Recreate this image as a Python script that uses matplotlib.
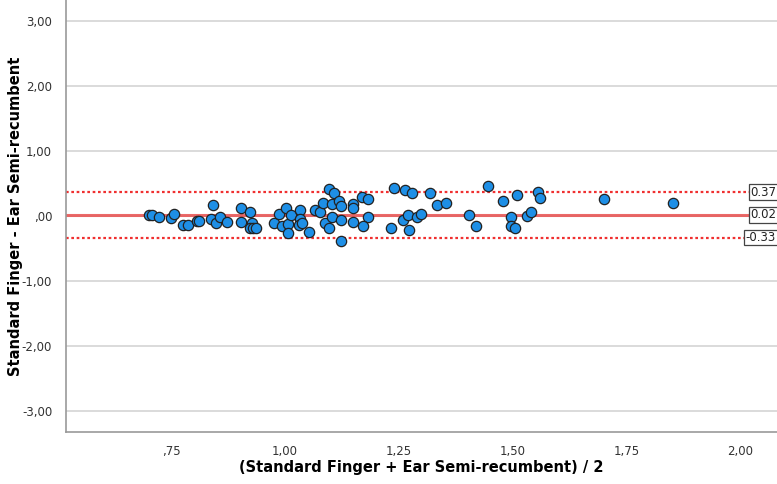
import numpy as np
import matplotlib
matplotlib.use("Agg")
import matplotlib.pyplot as plt
import matplotlib.ticker as ticker

# Bland-Altman data: mean of the two methods vs. difference
mean_vals = [0.702, 0.707, 0.722, 0.749, 0.757, 0.776, 0.786, 0.807, 0.812, 0.837,
             0.842, 0.848, 0.857, 0.872, 0.903, 0.903, 0.923, 0.927, 0.922, 0.930,
             0.936, 0.976, 0.987, 0.993, 1.002, 1.007, 1.007, 1.013, 1.033, 1.033,
             1.031, 1.038, 1.053, 1.066, 1.077, 1.083, 1.088, 1.097, 1.097, 1.108,
             1.103, 1.103, 1.119, 1.123, 1.122, 1.123, 1.149, 1.149, 1.149, 1.169,
             1.183, 1.183, 1.172, 1.238, 1.233, 1.264, 1.278, 1.259, 1.269, 1.273,
             1.289, 1.298, 1.319, 1.333, 1.354, 1.404, 1.419, 1.445, 1.478, 1.509,
             1.495, 1.495, 1.505, 1.530, 1.540, 1.555, 1.559, 1.700, 1.851]
diff_vals = [0.02, 0.02, -0.01, -0.03, 0.03, -0.13, -0.13, -0.08, -0.08, -0.04,
             0.17, -0.10, -0.01, -0.09, 0.13, -0.09, 0.07, -0.10, -0.18, -0.18,
             -0.18, -0.11, 0.04, -0.16, 0.13, -0.12, -0.26, 0.02, 0.10, -0.04,
             -0.13, -0.11, -0.25, 0.10, 0.07, 0.20, -0.10, -0.19, 0.41, 0.35,
             0.18, -0.01, 0.23, 0.16, -0.06, -0.39, 0.18, 0.12, -0.09, 0.29,
             0.27, -0.02, -0.16, 0.43, -0.18, 0.40, 0.35, -0.06, 0.02, -0.21,
             -0.02, 0.04, 0.35, 0.17, 0.20, 0.02, -0.16, 0.47, 0.23, 0.33,
             -0.02, -0.15, -0.19, 0.00, 0.06, 0.37, 0.28, 0.27, 0.20]

mean_diff = 0.02
loa_upper = 0.37
loa_lower = -0.33

x_ticks = [0.75, 1.00, 1.25, 1.50, 1.75, 2.00]
y_ticks = [-3, -2, -1, 0, 1, 2, 3]


def spss_fmt(v, pos=None):
    s = "{:.2f}".format(v).replace(".", ",")
    if s.startswith("0,"):
        s = s[1:]
    elif s.startswith("-0,"):
        s = "-" + s[2:]
    return s


fig = plt.figure(figsize=(7.77, 4.84), dpi=100)
ax = fig.add_axes([0.085, 0.107, 0.915, 0.893])

ax.set_xlim(0.519, 2.08)
ax.set_ylim(-3.33, 3.33)

for yt in y_ticks:
    ax.axhline(yt, color="#d4d4d4", lw=1.2, zorder=0)

ax.axhline(mean_diff, color="#e8504f", lw=2.2, alpha=0.85, zorder=1)
ax.axhline(loa_upper, color="#f03030", lw=1.6, ls=(0, (1.2, 1.2)), zorder=1)
ax.axhline(loa_lower, color="#f03030", lw=1.6, ls=(0, (1.2, 1.2)), zorder=1)

ax.scatter(mean_vals, diff_vals, s=55, c="#1e8fe6", edgecolors="#222222",
           linewidths=0.9, zorder=3)

for val in [loa_upper, mean_diff, loa_lower]:
    ax.text(2.078, val, "{:.2f}".format(val), ha="right", va="center", fontsize=8.5,
            color="#222222", zorder=4,
            bbox=dict(boxstyle="square,pad=0.12", fc="white", ec="#444444", lw=0.9))

ax.set_xticks(x_ticks)
ax.set_yticks(y_ticks)
ax.xaxis.set_major_formatter(ticker.FuncFormatter(spss_fmt))
ax.yaxis.set_major_formatter(ticker.FuncFormatter(spss_fmt))
ax.tick_params(length=0, labelsize=8.5, colors="#333333", pad=10)
ax.tick_params(axis="x", pad=9)

for side in ["top", "right"]:
    ax.spines[side].set_visible(False)
for side in ["left", "bottom"]:
    ax.spines[side].set_color("#999999")
    ax.spines[side].set_linewidth(1.2)

ax.set_xlabel("(Standard Finger + Ear Semi-recumbent) / 2", fontsize=10.5,
              fontweight="bold")
ax.set_ylabel("Standard Finger - Ear Semi-recumbent", fontsize=10.5,
              fontweight="bold")
ax.xaxis.set_label_coords(0.5, -0.065)
ax.yaxis.set_label_coords(-0.06, 0.5)

fig.savefig("out.png", dpi=100)
